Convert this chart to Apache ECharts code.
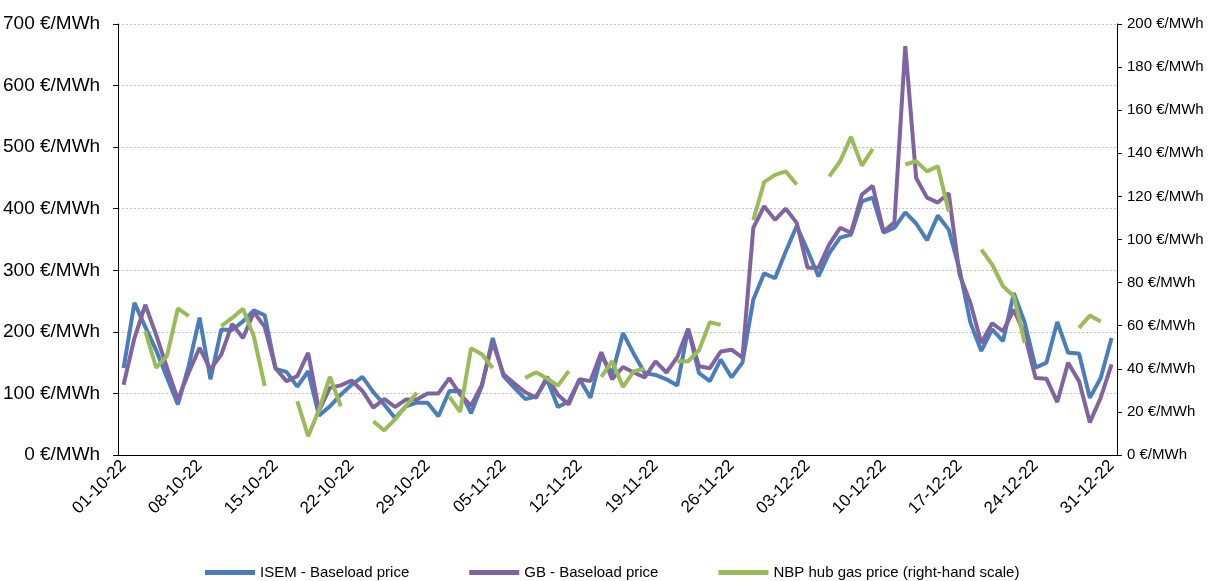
<!DOCTYPE html>
<html>
<head>
<meta charset="utf-8">
<script src="https://cdn.jsdelivr.net/npm/echarts@6/dist/echarts.min.js"></script>
<style>
  html, body { margin: 0; padding: 0; background: #ffffff; }
  #chart { width: 1215px; height: 581px; }
</style>
</head>
<body>
<div id="chart"></div>
<script>
// Daily dates, 1 October to 31 December 2022 (dd-mm-yy)
const days = [];
(function () {
  const d = new Date(Date.UTC(2022, 9, 1));
  const end = new Date(Date.UTC(2022, 11, 31));
  while (d <= end) {
    const dd = String(d.getUTCDate()).padStart(2, '0');
    const mm = String(d.getUTCMonth() + 1).padStart(2, '0');
    days.push(dd + '-' + mm + '-22');
    d.setUTCDate(d.getUTCDate() + 1);
  }
})();

// ISEM baseload price, €/MWh
const isemBaseload = [
  141, 247, 208, 170, 126, 82, 145, 223, 123, 204,
  203, 217, 235, 227, 140, 135, 111, 136, 64, 79,
  98, 114, 127, 102, 82, 60, 79, 85, 85, 63,
  104, 104, 68, 112, 190, 128, 109, 91, 95, 123,
  78, 87, 123, 93, 162, 131, 198, 164, 133, 130,
  123, 113, 205, 133, 120, 155, 126, 150, 252, 295,
  287, 331, 372, 332, 290, 328, 353, 358, 412, 418,
  361, 369, 394, 376, 349, 389, 366, 301, 215, 169,
  204, 185, 263, 215, 142, 150, 216, 166, 165, 93,
  125, 190
];

// GB baseload price, €/MWh
const gbBaseload = [
  114, 190, 244, 195, 142, 90, 134, 174, 139, 163,
  213, 190, 232, 208, 141, 120, 128, 166, 72, 109,
  113, 121, 104, 77, 91, 78, 90, 90, 100, 100,
  125, 98, 80, 114, 183, 131, 116, 102, 93, 127,
  98, 82, 123, 120, 167, 123, 143, 134, 126, 152,
  134, 159, 205, 144, 141, 168, 171, 158, 369, 404,
  382, 400, 377, 304, 304, 342, 369, 361, 423, 437,
  363, 378, 664, 450, 418, 410, 425, 293, 247, 182,
  214, 201, 236, 196, 125, 124, 86, 150, 120, 53,
  93, 147
];

// NBP hub gas price, €/MWh (trading days only; null on weekends and holidays)
const nbpGas = [
  null, null, 57.4, 40.5, 46, 68, 64.4, null, null, 59.8,
  63.6, 67.8, 55, 32, null, null, 25, 8.7, 21, 36.3,
  22.6, null, null, 15.7, 11.4, 16.5, 22.6, 28.9, null, null,
  27, 20, 49.5, 46.8, 40.4, null, null, 35.8, 38.4, 35.5,
  32.2, 38.9, null, null, 36.3, 43.5, 31.6, 38.9, 40, null,
  null, 43.5, 43.5, 48.6, 61.6, 60.4, null, null, 109, 126.6,
  130, 131.6, 125.5, null, null, 129.3, 136.3, 147.6, 134.3, 142,
  null, null, 134.8, 136.3, 131.6, 134, 113, null, null, 95.3,
  88.4, 78.3, 73.7, 52, null, null, null, null, 59, 64.7,
  62, null
];

const seriesNames = [
  'ISEM - Baseload price',
  'GB - Baseload price',
  'NBP hub gas price (right-hand scale)'
];
const seriesColors = ['#4a7ebb', '#8064a2', '#9bbb59'];

const chart = echarts.init(document.getElementById('chart'), null, { renderer: 'canvas' });

const fontFamily = '"Liberation Sans", Arial, sans-serif';

chart.setOption({
  animation: false,
  backgroundColor: '#ffffff',
  textStyle: { fontFamily: fontFamily, color: '#000000' },
  grid: { left: 118, right: 98, top: 24, bottom: 126, containLabel: false },
  legend: {
    data: seriesNames,
    bottom: -4,
    left: 200,
    itemWidth: 50,
    itemHeight: 5,
    itemGap: 60,
    icon: 'rect',
    textStyle: { fontSize: 15, color: '#000000', fontFamily: fontFamily }
  },
  xAxis: {
    type: 'category',
    data: days,
    boundaryGap: true,
    axisLine: { lineStyle: { color: '#000000', width: 1 } },
    axisTick: { interval: 6, length: 5, lineStyle: { color: '#000000' } },
    axisLabel: {
      interval: 6,
      rotate: 45,
      fontSize: 17,
      color: '#000000',
      margin: 8
    },
    splitLine: { show: false }
  },
  yAxis: [
    {
      type: 'value',
      min: 0,
      max: 700,
      interval: 100,
      position: 'left',
      axisLine: { show: true, lineStyle: { color: '#000000' } },
      axisTick: { show: true, length: 5, lineStyle: { color: '#000000' } },
      axisLabel: { formatter: '{value} €/MWh', fontSize: 19, color: '#000000', margin: 18 },
      splitLine: { show: true, lineStyle: { color: '#bfbfbf', type: [2, 2], width: 1 } }
    },
    {
      type: 'value',
      min: 0,
      max: 200,
      interval: 20,
      position: 'right',
      axisLine: { show: true, lineStyle: { color: '#000000' } },
      axisTick: { show: true, length: 5, lineStyle: { color: '#000000' } },
      axisLabel: { formatter: '{value} €/MWh', fontSize: 15, color: '#000000', margin: 10 },
      splitLine: { show: false }
    }
  ],
  series: [
    {
      name: seriesNames[0],
      type: 'line',
      yAxisIndex: 0,
      data: isemBaseload,
      symbol: 'none',
      lineStyle: { width: 4, color: seriesColors[0] },
      itemStyle: { color: seriesColors[0] },
      z: 2
    },
    {
      name: seriesNames[1],
      type: 'line',
      yAxisIndex: 0,
      data: gbBaseload,
      symbol: 'none',
      lineStyle: { width: 4, color: seriesColors[1] },
      itemStyle: { color: seriesColors[1] },
      z: 3
    },
    {
      name: seriesNames[2],
      type: 'line',
      yAxisIndex: 1,
      data: nbpGas,
      symbol: 'none',
      connectNulls: false,
      lineStyle: { width: 4, color: seriesColors[2] },
      itemStyle: { color: seriesColors[2] },
      z: 4
    }
  ]
});
</script>
</body>
</html>
